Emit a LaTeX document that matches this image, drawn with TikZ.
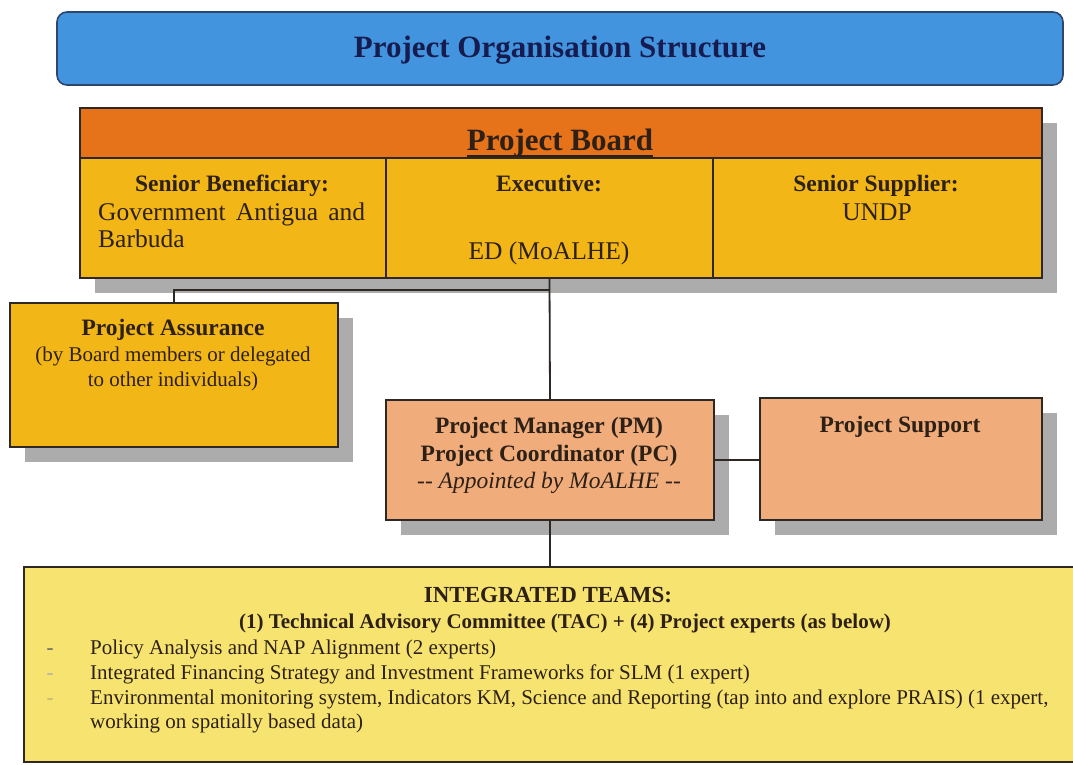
\documentclass[tikz,border=0pt]{standalone}
\usepackage{fontspec}
\setmainfont{Liberation Serif}
\definecolor{titleblue}{RGB}{66,148,222}
\definecolor{titleedge}{RGB}{45,70,110}
\definecolor{navy}{RGB}{22,28,80}
\definecolor{boardorange}{RGB}{230,114,26}
\definecolor{gold}{RGB}{242,183,22}
\definecolor{salmon}{RGB}{240,172,122}
\definecolor{paleyellow}{RGB}{247,228,112}
\definecolor{inkbrown}{RGB}{45,32,22}
\definecolor{edge}{RGB}{45,40,35}
\definecolor{shadowgray}{RGB}{172,172,172}
\newcommand\myfs[2]{\fontsize{#1}{#2}\selectfont}
\begin{document}
\begin{tikzpicture}[x=1pt,y=-1pt,
  box/.style={draw=edge,line width=1.6pt,anchor=north west,inner sep=0pt,outer sep=0pt},
  shadowbox/.style={fill=shadowgray},
  txt/.style={inner sep=0pt,anchor=base,text=inkbrown},
  conn/.style={draw=edge,line width=1.8pt}]
\useasboundingbox (0,0) rectangle (1073,764);
% shadows
\fill[shadowbox] (95,123) rectangle (1057,293);
\fill[shadowbox] (25,318) rectangle (353,462);
\fill[shadowbox] (401,415) rectangle (729,535);
\fill[shadowbox] (775,413) rectangle (1057,535);
% title
\node[box,draw=titleedge,fill=titleblue,rounded corners=10pt,minimum width=1006pt,minimum height=73pt] (title) at (57,12) {};
\node[txt,text=navy,font=\myfs{31}{35}\bfseries] (titlet) at (560,57) {Project Organisation Structure};
% project board
\node[box,fill=boardorange,minimum width=962pt,minimum height=50pt] (pbh) at (80,108) {};
\node[box,fill=gold,minimum width=306pt,minimum height=120pt] (sb) at (80,158) {};
\node[box,fill=gold,minimum width=327pt,minimum height=120pt] (ex) at (386,158) {};
\node[box,fill=gold,minimum width=329pt,minimum height=120pt] (ss) at (713,158) {};
\node[txt,font=\myfs{31}{35}\bfseries] (pbt) at (560,150) {Project Board};
\draw[draw=inkbrown,line width=1.4pt] ([yshift=-6pt]pbt.base west) -- ([yshift=-6pt]pbt.base east);
\node[txt,font=\myfs{23.5}{27}\bfseries] (sbt) at (232,191.5) {Senior Beneficiary:};
\node[txt,anchor=base west,font=\myfs{25.5}{28}] (sbt2) at (98,220) {\makebox[267pt][s]{Government Antigua and}};
\node[txt,anchor=base west,font=\myfs{25.5}{28}] (sbt3) at (98,247) {Barbuda};
\node[txt,font=\myfs{23.5}{27}\bfseries] (ext) at (549,191.5) {Executive:};
\node[txt,font=\myfs{25.5}{28}] (ext2) at (549,259) {ED (MoALHE)};
\node[txt,font=\myfs{23.5}{27}\bfseries] (sst) at (876,191.5) {Senior Supplier:};
\node[txt,font=\myfs{25.5}{28}] (sst2) at (877,220) {UNDP};
% project assurance
\node[box,fill=gold,minimum width=328pt,minimum height=144pt] (pa) at (10,303) {};
\node[txt,font=\myfs{23.5}{27}\bfseries] (pat) at (173,335) {Project Assurance};
\node[txt,font=\myfs{21}{25}] (pat2) at (173,361.5) {(by Board members or delegated};
\node[txt,font=\myfs{21}{25}] (pat3) at (173,386) {to other individuals)};
% project manager
\node[box,fill=salmon,minimum width=328pt,minimum height=120pt] (pm) at (386,400) {};
\node[txt,font=\myfs{23.5}{27}\bfseries] (pmt) at (549,433) {Project Manager (PM)};
\node[txt,font=\myfs{23.5}{27}\bfseries] (pmt2) at (549,461) {Project Coordinator (PC)};
\node[txt,font=\myfs{23.5}{27}\itshape] (pmt3) at (549,488) {{-}{-} Appointed by MoALHE {-}{-}};
% project support
\node[box,fill=salmon,minimum width=282pt,minimum height=122pt] (ps) at (760,398) {};
\node[txt,font=\myfs{23.5}{27}\bfseries] (pst) at (900,432) {Project Support};
% integrated teams
\node[box,fill=paleyellow,minimum width=1060pt,minimum height=195pt] (it) at (24,567) {};
\node[txt,font=\myfs{23}{26}\bfseries] (itt) at (548,602) {INTEGRATED TEAMS:};
\node[txt,font=\myfs{21}{25}\bfseries] (itt2) at (565,628) {(1) Technical Advisory Committee (TAC) + (4) Project experts (as below)};
\node[txt,text=gray!80!black,font=\myfs{21}{25}] (b1) at (50,654) {-};
\node[txt,text=gray!60,font=\myfs{21}{25}] (b2) at (50,679) {-};
\node[txt,text=gray!45!paleyellow,font=\myfs{21}{25}] (b3) at (50,704) {-};
\node[txt,anchor=base west,font=\myfs{21}{25}] (l1) at (90,654) {Policy Analysis and NAP Alignment (2 experts)};
\node[txt,anchor=base west,font=\myfs{21}{25}] (l2) at (90,679) {Integrated Financing Strategy and Investment Frameworks for SLM (1 expert)};
\node[txt,anchor=base west,font=\myfs{21}{25}] (l3) at (90,704) {Environmental monitoring system, Indicators KM, Science and Reporting (tap into and explore PRAIS) (1 expert,};
\node[txt,anchor=base west,font=\myfs{21}{25}] (l4) at (90,728) {working on spatially based data)};
% connectors
\coordinate (j1) at ([yshift=-12pt]ex.south);
\draw[conn] (ex.south) -- (pm.north);
\draw[conn] (pa.north) |- (j1);
\draw[conn] (pm.east) -- (pm.east -| ps.west);
\draw[conn] (pm.south) -- (pm.south |- it.north);
\end{tikzpicture}
\end{document}
